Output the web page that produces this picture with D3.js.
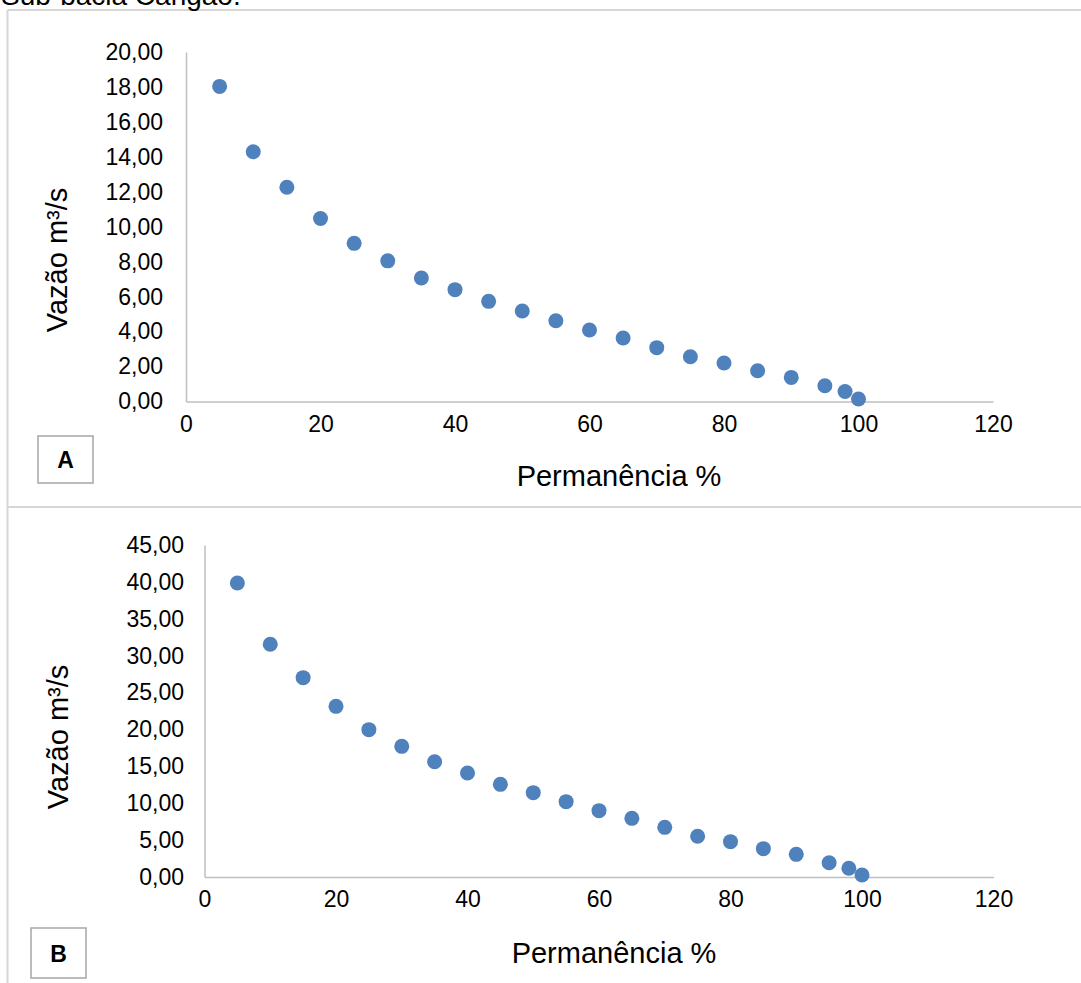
<!DOCTYPE html>
<html>
<head>
<meta charset="utf-8">
<script src="https://cdn.jsdelivr.net/npm/d3@7"></script>
<style>
  body { margin: 0; background: #fff; }
  svg { display: block; font-family: Arial, "Liberation Sans", sans-serif; }
</style>
</head>
<body>
<svg width="1081" height="983"></svg>
<script>
// permanence (%) and flow values
const permanencia = [5, 10, 15, 20, 25, 30, 35, 40, 45, 50, 55, 60, 65, 70, 75, 80, 85, 90, 95, 98, 100]
const vazaoA = [18.03, 14.29, 12.26, 10.47, 9.05, 8.05, 7.07, 6.40, 5.73, 5.18, 4.62, 4.09, 3.63, 3.08, 2.56, 2.20, 1.76, 1.38, 0.90, 0.57, 0.14]
const vazaoB = [39.85, 31.54, 27.02, 23.13, 19.97, 17.71, 15.63, 14.10, 12.56, 11.43, 10.21, 8.99, 7.95, 6.73, 5.52, 4.79, 3.84, 3.07, 1.94, 1.18, 0.27]
const xTicks = [0, 20, 40, 60, 80, 100, 120]
const yTicksA = [0, 2, 4, 6, 8, 10, 12, 14, 16, 18, 20]
const yTicksB = [0, 5, 10, 15, 20, 25, 30, 35, 40, 45]

const svg = d3.select('svg')
const grey = '#bfbfbf'
const blue = '#4f81bd'
const ptBR = d3.formatLocale({decimal: ',', thousands: '.', grouping: [3], currency: ['R$', '']})
const fmt = ptBR.format('.2f')

// frame lines around the figure
svg.append('line').attr('x1', 7.5).attr('x2', 1081).attr('y1', 10).attr('y2', 10)
    .attr('stroke', '#d6d6d6').attr('stroke-width', 2)
svg.append('line').attr('x1', 7.5).attr('x2', 7.5).attr('y1', 10).attr('y2', 983)
    .attr('stroke', '#d6d6d6').attr('stroke-width', 2)
svg.append('line').attr('x1', 7.5).attr('x2', 1081).attr('y1', 507).attr('y2', 507)
    .attr('stroke', '#d6d6d6').attr('stroke-width', 2)

// title cut off at the top of the picture
svg.append('text').attr('x', 1).attr('y', 5)
    .style('font-size', '28px').attr('fill', '#000')
    .text('Sub-bacia Cangaó.')

const render = (values, yTicks, o) => {
    const data = permanencia.map((p, i) => ({p: p, q: values[i]}))

    const x_scale = d3.scaleLinear().domain([0, 120]).range([o.left, o.right])
    const y_scale = d3.scaleLinear().domain([0, d3.max(yTicks)]).range([o.bottom, o.top])

    const g = svg.append('g')

    const yAxis = g.append('g')
        .attr('transform', `translate(${o.left},0)`)
        .call(d3.axisLeft(y_scale).tickValues(yTicks).tickSize(0).tickPadding(o.left - o.labelRight).tickFormat(fmt))
    yAxis.select('.domain').attr('stroke', grey).attr('stroke-width', 1.5)
    yAxis.selectAll('text').style('font-size', '23px').attr('fill', '#000')

    const xAxis = g.append('g')
        .attr('transform', `translate(0,${o.bottom})`)
        .call(d3.axisBottom(x_scale).tickValues(xTicks).tickSize(0).tickPadding(14))
    xAxis.select('.domain').attr('stroke', grey).attr('stroke-width', 1.5)
    xAxis.selectAll('text').style('font-size', '23px').attr('fill', '#000')

    g.selectAll('circle').data(data)
        .enter().append('circle')
        .attr('cx', d => x_scale(d.p))
        .attr('cy', d => y_scale(d.q))
        .attr('r', 7.5)
        .attr('fill', blue)

    g.append('text')
        .attr('x', o.xTitleX).attr('y', o.xTitleY)
        .attr('text-anchor', 'middle')
        .style('font-size', '29px')
        .text('Permanência %')

    g.append('text')
        .attr('transform', `translate(${o.yTitleX},${o.yTitleY}) rotate(-90)`)
        .attr('text-anchor', 'middle')
        .style('font-size', '29px')
        .text('Vazão m³/s')

    // panel letter box
    g.append('rect')
        .attr('x', o.box[0]).attr('y', o.box[1]).attr('width', o.box[2]).attr('height', o.box[3])
        .attr('fill', '#fff').attr('stroke', '#a6a6a6').attr('stroke-width', 1.5)
    g.append('text')
        .attr('x', o.box[0] + o.box[2] / 2).attr('y', o.box[1] + o.box[3] / 2 + 8.5)
        .attr('text-anchor', 'middle')
        .style('font-size', '23px').style('font-weight', 'bold')
        .text(o.letter)
}

render(vazaoA, yTicksA, {
    left: 186, right: 993, top: 52, bottom: 401.5, labelRight: 163,
    xTitleX: 619, xTitleY: 486, yTitleX: 67, yTitleY: 260,
    box: [38, 436, 55, 47], letter: 'A'
})

render(vazaoB, yTicksB, {
    left: 204.5, right: 993.5, top: 545, bottom: 877, labelRight: 184,
    xTitleX: 614, xTitleY: 963, yTitleX: 68, yTitleY: 737,
    box: [31, 928, 55, 50], letter: 'B'
})
</script>
</body>
</html>
